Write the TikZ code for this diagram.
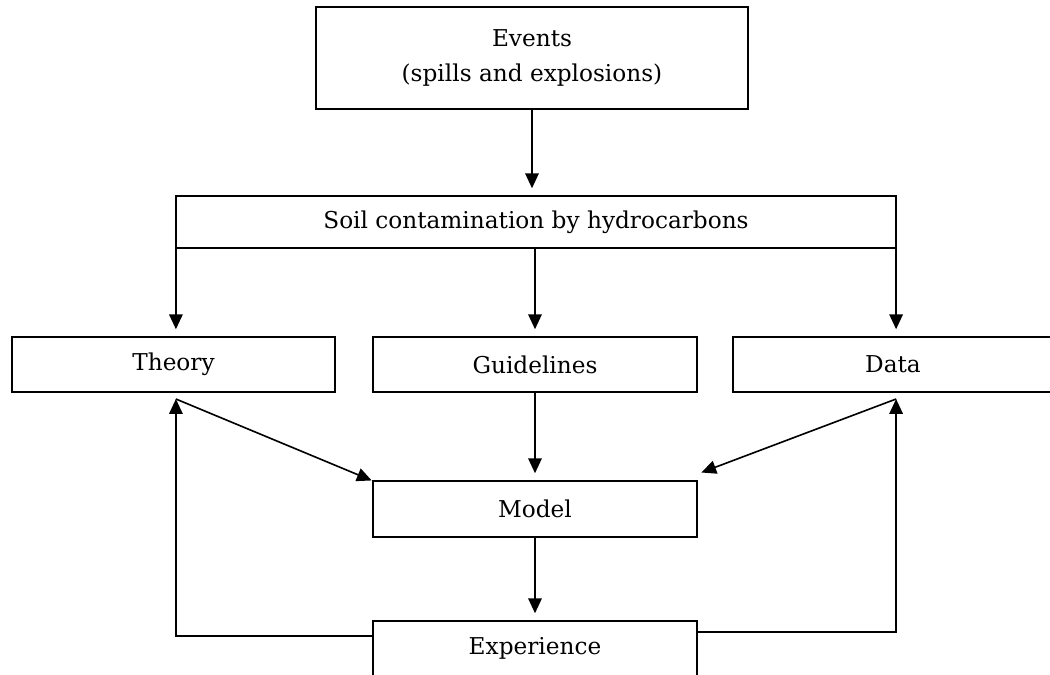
\documentclass[tikz,border=0pt]{standalone}
\usepackage{fontspec}
\setmainfont{DejaVu Serif}
\usepackage{tikz}
\usetikzlibrary{shapes,arrows.meta,positioning,calc}
\tikzstyle{box} = [rectangle, draw, line width=1.3pt, text centered, align=center, minimum height=1.375cm, outer sep=0pt, inner sep=0pt, font=\fontsize{16.5}{25}\selectfont]
\tikzstyle{line} = [draw, line width=1.15pt, -{Triangle[length=10.5pt,width=9.5pt]}, shorten >=5.5pt]

\begin{document}
\begin{tikzpicture}[x=0.025cm, y=-0.025cm]
    \useasboundingbox (0,0) rectangle (1050,675);
    \node[box, minimum width=10.8cm, minimum height=2.55cm] (events) at (532,58) {Events\\(spills and explosions)};
    \node[box, minimum width=18cm, minimum height=1.3cm] (soil) at (536,222) {Soil contamination by hydrocarbons};

    \node[box, minimum width=8.075cm] (theory) at (173.5,364.5) {Theory};
    \node[box, minimum width=8.1cm] (guide) at (535,364.5) {Guidelines};
    \node[box, minimum width=8cm] (data) at (893,364.5) {Data};

    \node[box, minimum width=8.1cm, minimum height=1.4cm] (model) at (535,509) {Model};
    \node[box, minimum width=8.1cm] (exp) at (535,648.5) {Experience};

    \coordinate (tl) at ($(theory.south -| soil.south west)+(0,7)$);
    \coordinate (dl) at ($(data.south -| soil.south east)+(0,7)$);
    \coordinate (expl) at ($(exp.north west)+(0,15)$);
    \coordinate (expr) at ($(exp.north east)+(0,11)$);

    \path[line] (events.south) -- (events.south |- soil.north);
    \path[line] (soil.south west) -- (soil.south west |- theory.north);
    \path[line] (guide.north |- soil.south) -- (guide);
    \path[line] (soil.south east) -- (soil.south east |- data.north);

    \path[line, shorten >=1pt] (tl) -- (model.north west);
    \path[line] (guide) -- (model);
    \path[line, shorten >=1pt] (dl) -- ($(model.north east)+(3,-8)$);
    \path[line] (model) -- (exp);

    \path[line, shorten >=0pt] (expl) -| (tl);
    \path[line, shorten >=0pt] (expr) -| (dl);
\end{tikzpicture}
\end{document}
